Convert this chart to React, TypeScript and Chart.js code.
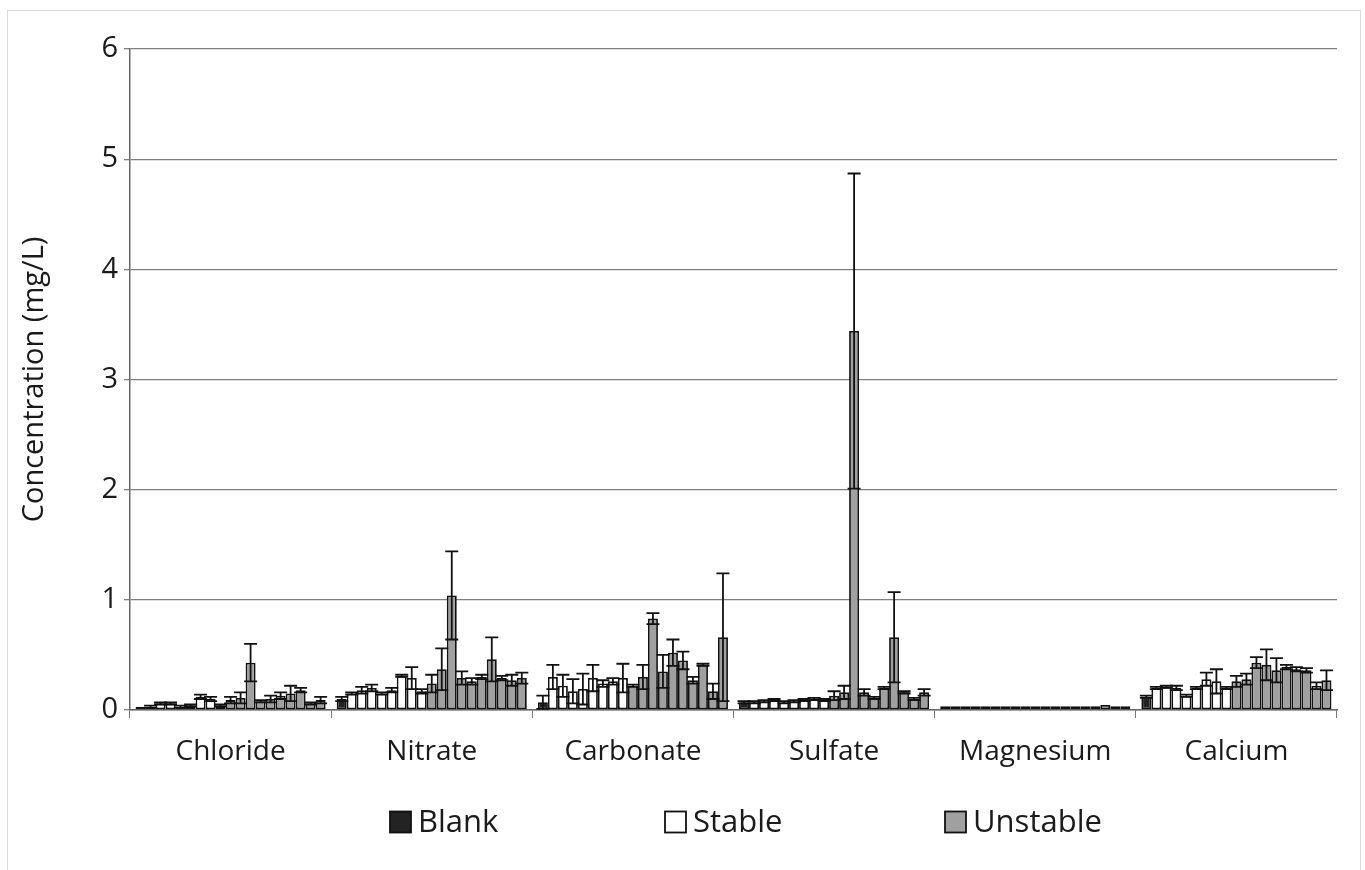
import React, { useEffect, useRef } from "react";
import { Chart, registerables } from "chart.js";

Chart.register(...registerables);

const categories = ["Chloride", "Nitrate", "Carbonate", "Sulfate", "Magnesium", "Calcium"];
const yTicks = [0, 1, 2, 3, 4, 5, 6];

// Sample order in every category: Blank, Stable 1-8, Unstable 1-10
const sampleGroups = ["Blank", "Stable", "Stable", "Stable", "Stable", "Stable", "Stable", "Stable", "Stable",
  "Unstable", "Unstable", "Unstable", "Unstable", "Unstable", "Unstable", "Unstable", "Unstable", "Unstable", "Unstable"];

const chlorideMean = [0.03, 0.03, 0.06, 0.06, 0.03, 0.04, 0.12, 0.10, 0.04, 0.09, 0.11, 0.43, 0.08, 0.10, 0.13, 0.15, 0.18, 0.06, 0.09];
const chlorideErr = [0.0, 0.01, 0.01, 0.01, 0.01, 0.01, 0.02, 0.02, 0.01, 0.03, 0.05, 0.17, 0.01, 0.03, 0.03, 0.07, 0.02, 0.01, 0.03];

const nitrateMean = [0.10, 0.15, 0.18, 0.20, 0.15, 0.18, 0.31, 0.29, 0.17, 0.24, 0.37, 1.04, 0.29, 0.26, 0.30, 0.46, 0.29, 0.27, 0.29];
const nitrateErr = [0.02, 0.01, 0.03, 0.03, 0.01, 0.02, 0.01, 0.10, 0.02, 0.08, 0.19, 0.40, 0.06, 0.03, 0.02, 0.20, 0.02, 0.05, 0.05];

const carbonateMean = [0.07, 0.30, 0.22, 0.17, 0.19, 0.29, 0.24, 0.26, 0.29, 0.22, 0.30, 0.83, 0.35, 0.52, 0.45, 0.27, 0.41, 0.17, 0.66];
const carbonateErr = [0.06, 0.11, 0.10, 0.11, 0.14, 0.12, 0.03, 0.03, 0.13, 0.01, 0.11, 0.05, 0.15, 0.12, 0.08, 0.03, 0.01, 0.07, 0.58];

const sulfateMean = [0.07, 0.07, 0.08, 0.09, 0.07, 0.08, 0.09, 0.10, 0.09, 0.13, 0.16, 3.44, 0.16, 0.11, 0.20, 0.66, 0.16, 0.10, 0.16];
const sulfateErr = [0.01, 0.01, 0.01, 0.01, 0.01, 0.01, 0.01, 0.01, 0.01, 0.04, 0.06, 1.43, 0.03, 0.01, 0.01, 0.41, 0.01, 0.01, 0.03];

const magnesiumMean = [0.035, 0.035, 0.035, 0.035, 0.035, 0.035, 0.035, 0.035, 0.035, 0.035, 0.035, 0.035, 0.035, 0.035, 0.035, 0.035, 0.045, 0.035, 0.035];
const magnesiumErr = [0, 0, 0, 0, 0, 0, 0, 0, 0, 0, 0, 0, 0, 0, 0, 0, 0, 0, 0];

const calciumMean = [0.12, 0.20, 0.21, 0.20, 0.13, 0.20, 0.28, 0.26, 0.20, 0.26, 0.28, 0.43, 0.41, 0.36, 0.39, 0.37, 0.36, 0.22, 0.27];
const calciumErr = [0.01, 0.01, 0.01, 0.02, 0.01, 0.01, 0.06, 0.11, 0.01, 0.05, 0.05, 0.05, 0.14, 0.11, 0.02, 0.02, 0.02, 0.03, 0.09];

const meansByCategory = [chlorideMean, nitrateMean, carbonateMean, sulfateMean, magnesiumMean, calciumMean];
const errsByCategory = [chlorideErr, nitrateErr, carbonateErr, sulfateErr, magnesiumErr, calciumErr];

const groupColors: Record<string, string> = { Blank: "#232323", Stable: "#ffffff", Unstable: "#a0a0a0" };
const legendGroups = ["Blank", "Stable", "Unstable"];
const FONT = "'Open Sans', sans-serif";

const errorBarPlugin = {
  id: "errorBars",
  afterDatasetsDraw(chart: any) {
    const ctx = chart.ctx;
    const y = chart.scales.y;
    ctx.save();
    ctx.strokeStyle = "#111";
    ctx.lineWidth = 1.8;
    chart.data.datasets.forEach((ds: any, di: number) => {
      const meta = chart.getDatasetMeta(di);
      meta.data.forEach((bar: any, i: number) => {
        const err = ds.errors[i];
        if (!err) return;
        const v = ds.data[i];
        const yTop = y.getPixelForValue(v + err);
        const yBot = y.getPixelForValue(Math.max(v - err, 0));
        const x = bar.x;
        const cap = 6.5;
        ctx.beginPath();
        ctx.moveTo(x, yBot);
        ctx.lineTo(x, yTop);
        ctx.moveTo(x - cap, yTop);
        ctx.lineTo(x + cap, yTop);
        ctx.moveTo(x - cap, yBot);
        ctx.lineTo(x + cap, yBot);
        ctx.stroke();
      });
    });
    ctx.restore();
  },
};

const legendPlugin = {
  id: "customLegend",
  afterDraw(chart: any) {
    const ctx = chart.ctx;
    const positions = [390, 665, 945];
    const cy = 822;
    const box = 21;
    ctx.save();
    ctx.font = `31px ${FONT}`;
    ctx.textBaseline = "middle";
    ctx.textAlign = "left";
    legendGroups.forEach((g, i) => {
      const x = positions[i];
      ctx.fillStyle = groupColors[g];
      ctx.fillRect(x, cy - box / 2, box, box);
      ctx.strokeStyle = "#111";
      ctx.lineWidth = 1.8;
      ctx.strokeRect(x, cy - box / 2, box, box);
      ctx.fillStyle = "#1a1a1a";
      ctx.fillText(g, x + box + 7, cy + 1);
    });
    // faint outer chart border
    ctx.strokeStyle = "#d9d9d9";
    ctx.lineWidth = 1;
    ctx.strokeRect(7.5, 10.5, 1353, 870);
    ctx.restore();
  },
};

export default function App() {
  const ref = useRef<HTMLCanvasElement>(null);
  useEffect(() => {
    const datasets = sampleGroups.map((g, s) => ({
      label: g + " " + s,
      group: g,
      data: meansByCategory.map((arr) => arr[s]),
      errors: errsByCategory.map((arr) => arr[s]),
      backgroundColor: groupColors[g],
      borderColor: "#111",
      borderWidth: 1.8,
      borderSkipped: false,
      barPercentage: 1,
      categoryPercentage: 0.945,
    }));
    const chart = new Chart(ref.current as HTMLCanvasElement, {
      type: "bar",
      data: { labels: categories, datasets: datasets as any },
      options: {
        animation: false,
        responsive: false,
        layout: { padding: { top: 49, right: 28, bottom: 90, left: 0 } },
        plugins: { legend: { display: false }, tooltip: { enabled: false } },
        scales: {
          x: {
            grid: { display: true, drawOnChartArea: false, tickLength: 8, color: "#777", offset: true },
            border: { display: true, color: "#666", width: 1.5 },
            ticks: { font: { family: FONT, size: 28 }, color: "#1a1a1a", padding: 17 },
            afterFit: (s: any) => { s.height = 70; },
          },
          y: {
            min: 0,
            max: 6,
            afterBuildTicks: (s: any) => { s.ticks = yTicks.map((v) => ({ value: v })); },
            grid: { color: "#808080", lineWidth: 1.3, tickLength: 6 },
            border: { display: true, color: "#666", width: 1.5 },
            ticks: { font: { family: FONT, size: 29 }, color: "#1a1a1a", padding: 6 },
            title: {
              display: true,
              text: "Concentration (mg/L)",
              font: { family: FONT, size: 29 },
              color: "#1a1a1a",
              padding: { top: 17, bottom: 0 },
            },
            afterFit: (s: any) => { s.width = 130; },
          },
        },
      },
      plugins: [errorBarPlugin, legendPlugin],
    });
    return () => chart.destroy();
  }, []);
  return (
    <div style={{ position: "fixed", left: 0, top: 0, width: 1365, height: 870, background: "#fff" }}>
      <canvas ref={ref} width={1365} height={870} />
    </div>
  );
}
